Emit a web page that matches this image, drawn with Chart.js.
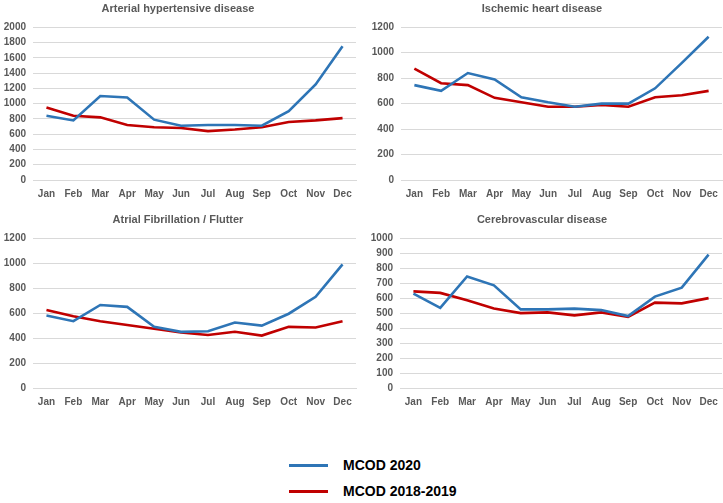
<!DOCTYPE html>
<html lang="en">
<head>
  <meta charset="UTF-8">
  <title>MCOD monthly deaths</title>
  <style>
    body{margin:0;padding:0;background:#fff;font-family:"Liberation Sans",Arial,sans-serif;}
    #wrap{position:relative;width:723px;height:503px;overflow:hidden;}
    .box{position:absolute;}
    .legend{position:absolute;left:289px;font-weight:700;font-size:14px;color:#000;display:flex;align-items:center;}
    .legend i{display:inline-block;width:39px;height:3px;margin-right:15px;}
  </style>
  <script src="https://cdn.jsdelivr.net/npm/chart.js"></script>
</head>
<body>
<div id="wrap">
  <div class="box" style="left:0;top:0;width:362px;height:205px"><canvas id="c1"></canvas></div>
  <div class="box" style="left:362px;top:0;width:361px;height:205px"><canvas id="c2"></canvas></div>
  <div class="box" style="left:0;top:208px;width:362px;height:205px"><canvas id="c3"></canvas></div>
  <div class="box" style="left:362px;top:208px;width:361px;height:205px"><canvas id="c4"></canvas></div>
  <div class="legend" style="top:457px"><i style="background:#2E75B6"></i>MCOD 2020</div>
  <div class="legend" style="top:483px"><i style="background:#C00000"></i>MCOD 2018-2019</div>
</div>
<script>
/* ===== Data ===== */
const months=["Jan","Feb","Mar","Apr","May","Jun","Jul","Aug","Sep","Oct","Nov","Dec"];

const hyper2020=[840,780,1100,1080,790,710,720,720,710,900,1250,1750];
const hyper1819=[950,840,820,720,690,680,640,660,690,760,780,810];

const ischemic2020=[745,700,840,790,650,610,575,600,600,720,920,1125];
const ischemic1819=[875,760,745,645,610,575,575,590,575,650,665,700];

const afib2020=[580,535,665,650,490,450,455,525,500,595,730,990];
const afib1819=[625,575,535,505,475,445,425,450,420,490,485,535];

const cereb2020=[630,535,745,685,525,525,530,520,480,610,670,890];
const cereb1819=[645,635,585,530,500,505,485,505,475,570,565,600];

/* ===== Style ===== */
const BLUE="#2E75B6",RED="#C00000",TXT="#595959",GRID="#D9D9D9";
const tickFont={family:"Liberation Sans, Arial, sans-serif",size:10,weight:"bold"};

function make(id,title,a,b,max,step,yW,padR,titleTop){
  new Chart(document.getElementById(id),{
    type:"line",
    data:{labels:months,datasets:[
      {label:"MCOD 2020",data:a,borderColor:BLUE,borderWidth:2.6,pointRadius:0,tension:0,fill:false},
      {label:"MCOD 2018-2019",data:b,borderColor:RED,borderWidth:2.6,pointRadius:0,tension:0,fill:false}
    ]},
    options:{
      animation:false,responsive:true,maintainAspectRatio:false,
      layout:{padding:{left:0,right:padR,top:0,bottom:0}},
      plugins:{
        legend:{display:false},tooltip:{enabled:false},
        title:{display:true,text:title,color:TXT,font:{family:"Liberation Sans, Arial, sans-serif",size:11,weight:"bold"},padding:{top:titleTop,bottom:12}}
      },
      scales:{
        x:{offset:true,grid:{display:false},border:{color:GRID},
           ticks:{color:TXT,font:tickFont,padding:0,maxRotation:0,autoSkip:false},
           afterFit:s=>{s.height=25;}},
        y:{min:0,max:max,grid:{color:GRID,drawTicks:false},border:{display:false},
           ticks:{count:max/step+1,autoSkip:false,color:TXT,font:tickFont,padding:7,callback:v=>String(v)},
           afterFit:s=>{s.width=yW;}}
      }
    }
  });
}

make("c1","Arterial hypertensive disease",hyper2020,hyper1819,2000,200,33,6,2);
make("c2","Ischemic heart disease",ischemic2020,ischemic1819,1200,200,39,1,2);
make("c3","Atrial Fibrillation / Flutter",afib2020,afib1819,1200,200,33,6,5);
make("c4","Cerebrovascular disease",cereb2020,cereb1819,1000,100,38,1,5);
</script>
</body>
</html>
